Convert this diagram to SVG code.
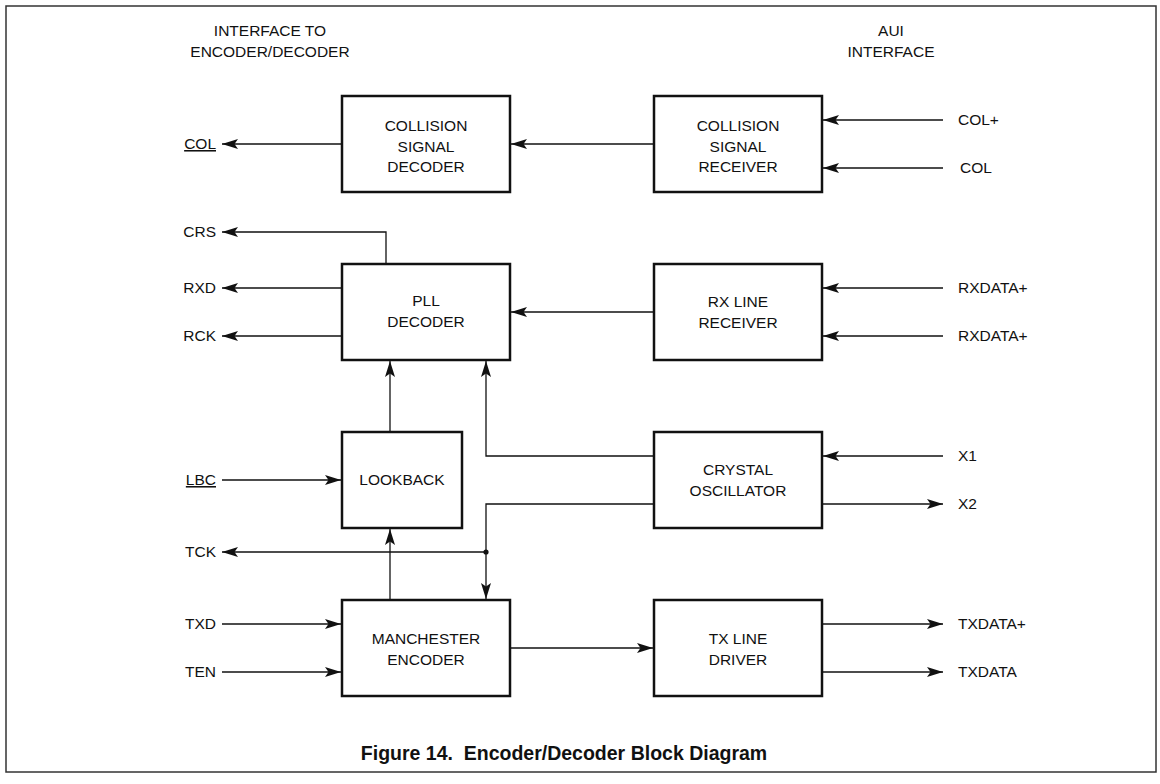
<svg xmlns="http://www.w3.org/2000/svg" width="1160" height="784" viewBox="0 0 1160 784">
<style>
text{font-family:"Liberation Sans",Arial,sans-serif;font-size:15.5px;fill:#111}
.c{text-anchor:middle}
.e{text-anchor:end}
.box{fill:#fff;stroke:#111;stroke-width:2.5}
.w{fill:none;stroke:#111;stroke-width:1.3}
.u{text-decoration:underline}
.cap{font-weight:bold;font-size:19.5px;white-space:pre}
</style>
<defs>
<marker id="a" markerUnits="userSpaceOnUse" markerWidth="18" markerHeight="12" refX="16" refY="6" orient="auto">
<path d="M0,1 L16,6 L0,11 L3.5,6 z" fill="#111"/>
</marker>
</defs>
<rect x="6" y="6" width="1150" height="766" fill="#fff" stroke="#333" stroke-width="1.5"/>
<g id="headers">
<text class="c" x="270" y="36">INTERFACE TO</text>
<text class="c" x="270" y="57">ENCODER/DECODER</text>
<text class="c" x="891" y="36">AUI</text>
<text class="c" x="891" y="57">INTERFACE</text>
</g>
<g id="connectors">
<path class="w" d="M342,144 H222" marker-end="url(#a)"/>
<path class="w" d="M654,144 H511" marker-end="url(#a)"/>
<path class="w" d="M943,120 H823" marker-end="url(#a)"/>
<path class="w" d="M943,168 H823" marker-end="url(#a)"/>
<path class="w" d="M386,264 V232 H222" marker-end="url(#a)"/>
<path class="w" d="M342,288 H222" marker-end="url(#a)"/>
<path class="w" d="M342,336 H222" marker-end="url(#a)"/>
<path class="w" d="M654,312 H511" marker-end="url(#a)"/>
<path class="w" d="M943,288 H823" marker-end="url(#a)"/>
<path class="w" d="M943,336 H823" marker-end="url(#a)"/>
<path class="w" d="M390,432 V361" marker-end="url(#a)"/>
<path class="w" d="M390,600 V529" marker-end="url(#a)"/>
<path class="w" d="M654,456 H486 V361" marker-end="url(#a)"/>
<path class="w" d="M654,504 H486 V599" marker-end="url(#a)"/>
<path class="w" d="M486,552 H222" marker-end="url(#a)"/>
<circle cx="486" cy="552" r="2.6" fill="#111"/>
<path class="w" d="M222,480 H341" marker-end="url(#a)"/>
<path class="w" d="M943,456 H823" marker-end="url(#a)"/>
<path class="w" d="M822,504 H943" marker-end="url(#a)"/>
<path class="w" d="M222,624 H341" marker-end="url(#a)"/>
<path class="w" d="M222,672 H341" marker-end="url(#a)"/>
<path class="w" d="M510,648 H653" marker-end="url(#a)"/>
<path class="w" d="M822,624 H943" marker-end="url(#a)"/>
<path class="w" d="M822,672 H943" marker-end="url(#a)"/>
</g>
<g id="collision-decoder">
<rect class="box" x="342" y="96" width="168" height="96"/>
<text class="c" x="426" y="131">COLLISION</text>
<text class="c" x="426" y="151.5">SIGNAL</text>
<text class="c" x="426" y="172">DECODER</text>
</g>
<g id="collision-receiver">
<rect class="box" x="654" y="96" width="168" height="96"/>
<text class="c" x="738" y="131">COLLISION</text>
<text class="c" x="738" y="151.5">SIGNAL</text>
<text class="c" x="738" y="172">RECEIVER</text>
</g>
<g id="pll-decoder">
<rect class="box" x="342" y="264" width="168" height="96"/>
<text class="c" x="426" y="306">PLL</text>
<text class="c" x="426" y="327">DECODER</text>
</g>
<g id="rx-line-receiver">
<rect class="box" x="654" y="264" width="168" height="96"/>
<text class="c" x="738" y="307">RX LINE</text>
<text class="c" x="738" y="328">RECEIVER</text>
</g>
<g id="lookback">
<rect class="box" x="342" y="432" width="120" height="96"/>
<text class="c" x="402" y="485">LOOKBACK</text>
</g>
<g id="crystal-oscillator">
<rect class="box" x="654" y="432" width="168" height="96"/>
<text class="c" x="738" y="475">CRYSTAL</text>
<text class="c" x="738" y="496">OSCILLATOR</text>
</g>
<g id="manchester-encoder">
<rect class="box" x="342" y="600" width="168" height="96"/>
<text class="c" x="426" y="643.5">MANCHESTER</text>
<text class="c" x="426" y="665">ENCODER</text>
</g>
<g id="tx-line-driver">
<rect class="box" x="654" y="600" width="168" height="96"/>
<text class="c" x="738" y="644">TX LINE</text>
<text class="c" x="738" y="665">DRIVER</text>
</g>
<g id="labels">
<text class="e u" x="216" y="149">COL</text>
<text class="e" x="216" y="237">CRS</text>
<text class="e" x="216" y="293">RXD</text>
<text class="e" x="216" y="341">RCK</text>
<text class="e u" x="216" y="485">LBC</text>
<text class="e" x="216" y="557">TCK</text>
<text class="e" x="216" y="629">TXD</text>
<text class="e" x="216" y="677">TEN</text>
<text x="958" y="125">COL+</text>
<text x="960" y="173">COL</text>
<text x="958" y="293">RXDATA+</text>
<text x="958" y="341">RXDATA+</text>
<text x="958" y="461">X1</text>
<text x="958" y="509">X2</text>
<text x="958" y="629">TXDATA+</text>
<text x="958" y="677">TXDATA</text>
</g>
<text class="c cap" x="564" y="760" xml:space="preserve">Figure 14.  Encoder/Decoder Block Diagram</text>
</svg>
